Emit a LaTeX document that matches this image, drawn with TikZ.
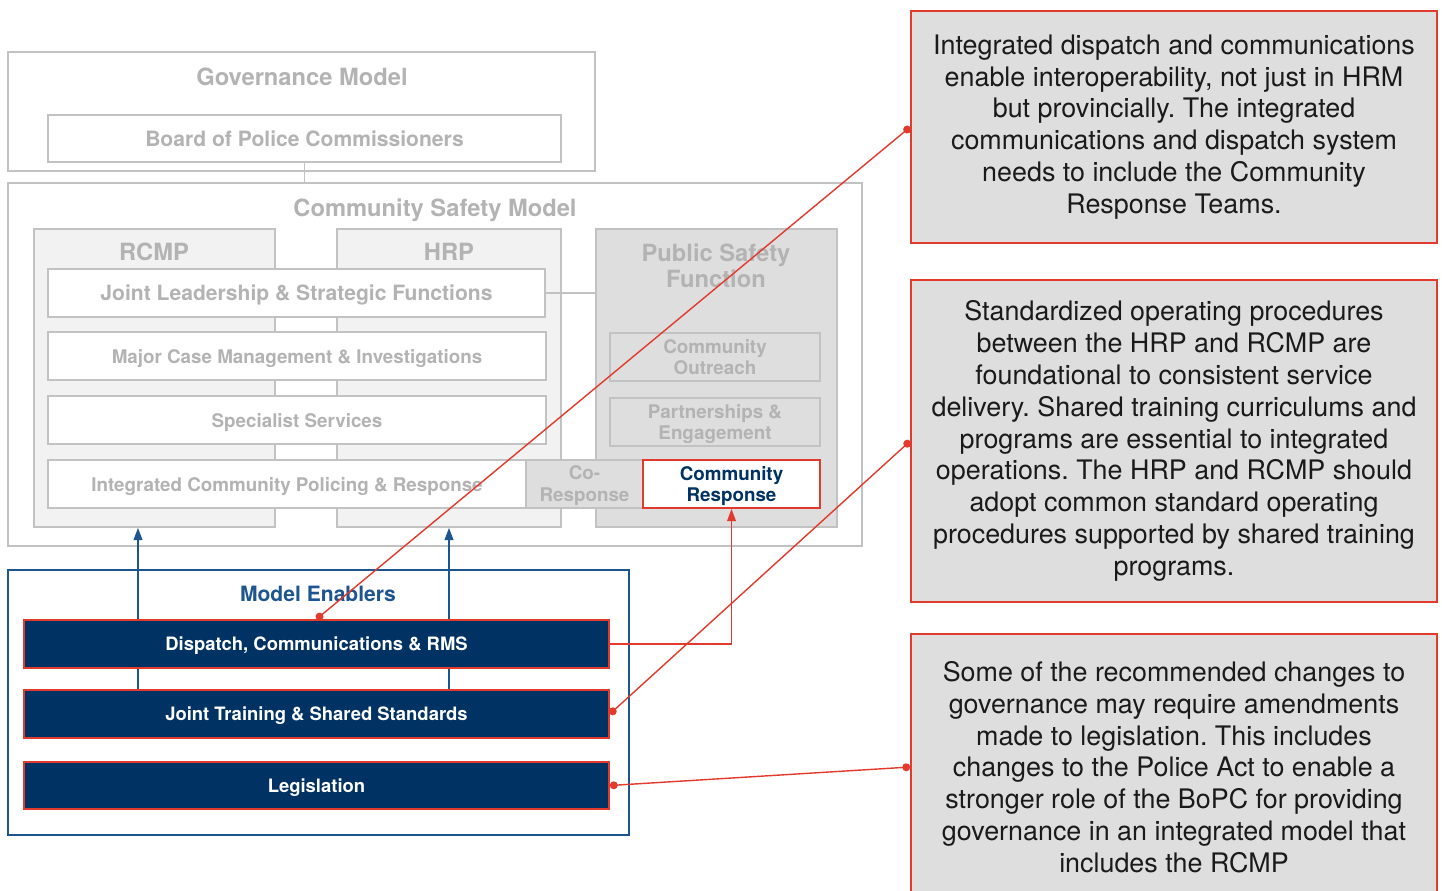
\documentclass[tikz,border=0pt]{standalone}
\usepackage{fontspec}
\setmainfont{TeX Gyre Heros}
\usepackage{xcolor}
\usetikzlibrary{arrows.meta,positioning,calc}
\frenchspacing
\definecolor{ghost}{HTML}{B3B3B3}
\definecolor{ghostline}{HTML}{C2C2C2}
\definecolor{paleg}{HTML}{F2F2F2}
\definecolor{midg}{HTML}{DEDEDE}
\definecolor{navy}{HTML}{003263}
\definecolor{enblue}{HTML}{1D5590}
\definecolor{callred}{HTML}{E23A2C}
\definecolor{ink}{HTML}{1A1A1A}
\tikzset{
  ghostbox/.style={
    rectangle, draw=ghostline, line width=1pt, fill=#1,
    text=ghost, font=\fontsize{10.7}{12.5}\selectfont\bfseries,
    align=center, inner sep=0pt, text depth=0pt
  },
  ghostbox/.default=white,
  ghosttitle/.style={
    text=ghost, font=\fontsize{13.5}{15}\selectfont\bfseries, align=center
  },
  enablerbox/.style={
    rectangle, draw=callred, line width=1pt, fill=navy, text=white,
    font=\fontsize{10.5}{12.5}\selectfont\bfseries,
    minimum width=11.7cm, minimum height=0.96cm, inner sep=0pt, text depth=0pt
  },
  calloutbox/.style={
    rectangle, draw=callred, line width=1pt, fill=midg, text=ink,
    minimum width=10.52cm, font=\fontsize{15.3}{18.1}\selectfont,
    align=center, inner sep=0pt
  },
  calllink/.style={
    callred, line width=0.8pt, {Circle[length=4.5pt]}-{Circle[length=4.5pt]}
  },
  uparrow/.style={
    enblue, line width=1pt, -{Triangle[length=7pt,width=5pt]}
  },
}
\begin{document}
\begin{tikzpicture}[x=0.02cm, y=-0.02cm]
\useasboundingbox (0,0) rectangle (1442,890);

% Governance Model
\node[ghostbox, minimum width=11.74cm, minimum height=2.38cm] (gov) at (301.5,111.5) {};
\node[ghosttitle] (gov-title) at (302,77) {Governance Model};
\node[ghostbox, minimum width=10.26cm, minimum height=0.94cm, font=\fontsize{12}{14}\selectfont\bfseries] (board) at (304.5,138.5) {Board of Police Commissioners};

% Community Safety Model
\node[ghostbox, minimum width=17.08cm, minimum height=7.26cm] (csm) at (435,364.5) {};
\node[ghosttitle] (csm-title) at (435,210) {Community Safety Model};
\draw[ghostline, line width=1pt] (board.south) -- (board.south |- csm.north);

\node[ghostbox=paleg, minimum width=4.82cm, minimum height=5.96cm] (rcmp) at (154.5,378) {};
\node[ghosttitle] (rcmp-title) at (154,252) {RCMP};
\node[ghostbox=paleg, minimum width=4.48cm, minimum height=5.96cm] (hrp) at (449,378) {};
\node[ghosttitle] (hrp-title) at (449,252) {HRP};
\node[ghostbox=midg, minimum width=4.82cm, minimum height=5.96cm] (psf) at (716.5,378) {};
\node[ghosttitle] (psf-title) at (716,266) {Public Safety\\Function};

\node[ghostbox, minimum width=9.94cm, minimum height=0.96cm, font=\fontsize{12}{14}\selectfont\bfseries] (joint-lead) at (296.5,293) {Joint Leadership \& Strategic Functions};
\draw[ghostline, line width=1pt] (joint-lead.east) -- (joint-lead.east -| psf.west);
\node[ghostbox, minimum width=9.96cm, minimum height=0.96cm] (major-case) at (297,356) {Major Case Management \& Investigations};
\node[ghostbox, minimum width=9.96cm, minimum height=0.96cm] (specialist) at (297,420) {Specialist Services};
\node[ghostbox, minimum width=9.56cm, minimum height=0.96cm] (icpr) at (287,484) {Integrated Community Policing \& Response};
\node[ghostbox=midg, minimum width=2.34cm, minimum height=0.96cm] (co-resp) at (584.5,484) {Co-\\Response};
\node[ghostbox=midg, minimum width=4.2cm, minimum height=0.96cm] (outreach) at (715,357) {Community\\Outreach};
\node[ghostbox=midg, minimum width=4.2cm, minimum height=0.96cm] (partners) at (715,422) {Partnerships \&\\Engagement};
\node[ghostbox, draw=callred, text=navy, minimum width=3.54cm, minimum height=0.96cm] (comm-resp) at (731.5,484) {Community\\Response};

% Model Enablers
\node[rectangle, draw=enblue, line width=1pt, minimum width=12.42cm, minimum height=5.3cm] (enablers) at (318.5,702.5) {};
\node[text=enblue, font=\fontsize{12}{14}\selectfont\bfseries] (enablers-title) at (318,594) {Model Enablers};
\node[enablerbox, minimum height=0.96cm] (joint-train) at (316.5,714) {Joint Training \& Shared Standards};
\coordinate (left-up) at (138,0);
\coordinate (right-up) at (449,0);
\draw[uparrow] (joint-train.north -| left-up) -- (rcmp.south -| left-up);
\draw[uparrow] (joint-train.north -| right-up) -- (hrp.south -| right-up);
\node[enablerbox] (dispatch) at (316.5,644) {Dispatch, Communications \& RMS};
\node[enablerbox, minimum height=0.94cm] (legislation) at (316.5,785.5) {Legislation};

% Callouts
\node[calloutbox, minimum height=4.64cm] (note-dispatch) at (1174,127) {Integrated dispatch and communications\\enable interoperability, not just in HRM\\but provincially. The integrated\\communications and dispatch system\\needs to include the Community\\Response Teams.};
\node[calloutbox, minimum height=6.44cm] (note-training) at (1174,441) {Standardized operating procedures\\between the HRP and RCMP are\\foundational to consistent service\\delivery. Shared training curriculums and\\programs are essential to integrated\\operations. The HRP and RCMP should\\adopt common standard operating\\procedures supported by shared training\\programs.};
\node[calloutbox, minimum height=5.32cm] (note-legislation) at (1174,767) {Some of the recommended changes to\\governance may require amendments\\made to legislation. This includes\\changes to the Police Act to enable a\\stronger role of the BoPC for providing\\governance in an integrated model that\\includes the RCMP};

% Links
\draw[calllink] (dispatch.north) -- (note-dispatch.west);
\draw[callred, line width=0.8pt, -{Triangle[length=7pt,width=5pt]}] (dispatch.east) -| (comm-resp.south);
\draw[calllink] (joint-train.east) -- (note-training.west);
\draw[calllink] (legislation.east) -- (note-legislation.west);

\end{tikzpicture}
\end{document}
